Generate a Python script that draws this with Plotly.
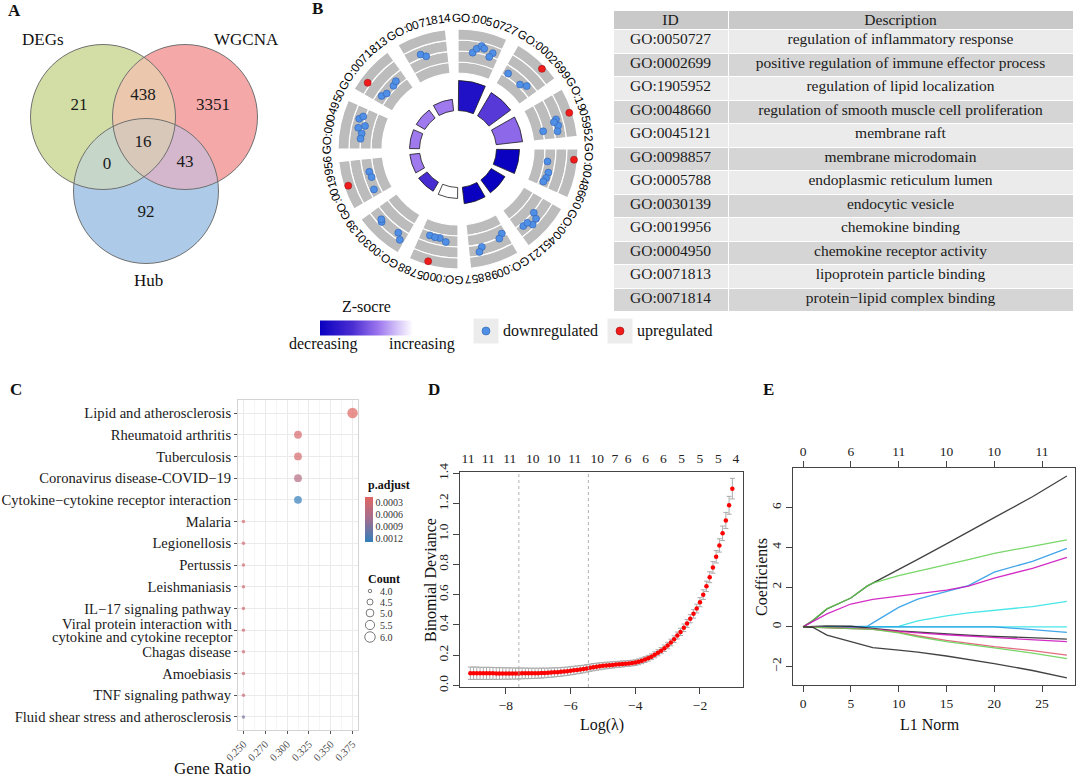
import math
import numpy as np
import plotly.graph_objects as go

W, H = 1080, 778
SERIF = "Liberation Serif"
SANS = "Liberation Sans"


def fx(x):
    return x / W


def fy(y):
    return 1 - y / H


# ---------------- data ----------------
# A: Venn
venn_sets = ["DEGs", "WGCNA", "Hub"]
venn_region_names = ["DEGs", "DEGs&WGCNA", "WGCNA", "DEGs&WGCNA&Hub", "DEGs&Hub", "WGCNA&Hub", "Hub"]
venn_region_counts = [21, 438, 3351, 16, 0, 43, 92]

# B: GO circle + table
go_ids = ["GO:0050727", "GO:0002699", "GO:1905952", "GO:0048660", "GO:0045121", "GO:0098857",
          "GO:0005788", "GO:0030139", "GO:0019956", "GO:0004950", "GO:0071813", "GO:0071814"]
go_desc = ["regulation of inflammatory response",
           "positive regulation of immune effector process",
           "regulation of lipid localization",
           "regulation of smooth muscle cell proliferation",
           "membrane raft",
           "membrane microdomain",
           "endoplasmic reticulum lumen",
           "endocytic vesicle",
           "chemokine binding",
           "chemokine receptor activity",
           "lipoprotein particle binding",
           "protein\u2212lipid complex binding"]
go_neglog_padj = [6.0, 5.4, 5.3, 4.6, 3.2, 3.3, 2.2, 2.1, 2.0, 2.0, 2.0, 2.3]
go_zscore = [-2.9, -2.0, -1.4, -3.3, -3.3, -3.3, 0.0, -2.2, -1.2, -1.2, -1.2, -1.2]

gene_term = [0, 0, 0, 0, 0, 0,
             1, 1, 1, 1,
             2, 2, 2, 2, 2, 2,
             3, 3, 3, 3, 3,
             4, 4, 4, 4, 4,
             5, 5, 5, 5,
             6, 6, 6, 6, 6,
             7, 7, 7, 7,
             8, 8, 8, 8,
             9, 9, 9, 9, 9, 9,
             10, 10, 10, 10, 10,
             11, 11]
gene_slot = [0.36, 0.44, 0.54, 0.61, 0.83, 0.78,
             0.15, 0.58, 0.73, 0.68,
             0.50, 0.55, 0.70, 0.60, 0.76, 0.83,
             0.22, 0.33, 0.61, 0.76, 0.87,
             0.42, 0.49, 0.64, 0.82, 0.70,
             0.11, 0.22, 0.68, 0.76,
             0.75, 0.48, 0.31, 0.61, 0.62,
             0.68, 0.73, 0.23, 0.11,
             0.48, 0.65, 0.50, 0.18,
             0.71, 0.79, 0.50, 0.38, 0.58, 0.25,
             0.26, 0.20, 0.33, 0.60, 0.73,
             0.35, 0.46]
gene_logfc = [-1.05, -0.64, -0.30, -0.48, -0.64, -1.07,
              -1.67, -1.78, -1.44, 0.64,
              0.73, -0.60, -0.55, -0.85, -2.00, -0.72,
              0.68, -1.70, -1.42, -1.48, -1.60,
              -0.90, -0.40, -0.25, -0.73, -0.70,
              -1.25, -0.94, -0.75, -0.35,
              -1.65, -1.65, -1.38, -1.62, 0.65,
              -0.31, -0.45, -0.56, -0.10,
              0.61, -1.58, -1.65, -1.43,
              -0.52, -0.80, -0.64, -1.04, -1.20, -1.00,
              0.27, -1.46, -1.70, -1.70, -1.55,
              -0.68, -1.00]

# C: KEGG dot plot
kegg_terms = ["Lipid and atherosclerosis", "Rheumatoid arthritis", "Tuberculosis",
              "Coronavirus disease-COVID\u221219", "Cytokine\u2212cytokine receptor interaction",
              "Malaria", "Legionellosis", "Pertussis", "Leishmaniasis", "IL\u221217 signaling pathway",
              "Viral protein interaction with cytokine and cytokine receptor",
              "Chagas disease", "Amoebiasis", "TNF signaling pathway",
              "Fluid shear stress and atherosclerosis"]
kegg_count = [6, 5, 5, 5, 5, 4, 4, 4, 4, 4, 4, 4, 4, 4, 4]
kegg_gene_ratio = [0.375, 0.3125, 0.3125, 0.3125, 0.3125, 0.25, 0.25, 0.25, 0.25, 0.25,
                   0.25, 0.25, 0.25, 0.25, 0.25]
kegg_padj = [0.00018, 0.00026, 0.00028, 0.00055, 0.0013, 0.0003, 0.0003, 0.0003, 0.00031,
             0.00033, 0.00035, 0.00036, 0.00036, 0.0004, 0.0009]
ratio_ticks = [0.25, 0.275, 0.30, 0.325, 0.35, 0.375]
ratio_tick_text = ["0.250", "0.270", "0.300", "0.325", "0.350", "0.375"]
padj_ticks = [0.0003, 0.0006, 0.0009, 0.0012]
count_legend = [4.0, 4.5, 5.0, 5.5, 6.0]

# D: cv.glmnet
d_loglambda = [-9.1, -9.0, -8.9, -8.8, -8.7, -8.6, -8.5, -8.4, -8.3, -8.2,
               -8.1, -8.0, -7.9, -7.8, -7.7, -7.6, -7.5, -7.4, -7.3, -7.2,
               -7.1, -7.0, -6.9, -6.8, -6.7, -6.6, -6.5, -6.4, -6.3, -6.2,
               -6.1, -6.0, -5.9, -5.8, -5.7, -5.6, -5.5, -5.4, -5.3, -5.2,
               -5.1, -5.0, -4.9, -4.8, -4.7, -4.6, -4.5, -4.4, -4.3, -4.2,
               -4.1, -4.0, -3.9, -3.8, -3.7, -3.6, -3.5, -3.4, -3.3, -3.2,
               -3.1, -3.0, -2.9, -2.8, -2.7, -2.6, -2.5, -2.4, -2.3, -2.2,
               -2.1, -2.0, -1.9, -1.8, -1.7, -1.6, -1.5, -1.4, -1.3, -1.2,
               -1.1, -1.0]
d_deviance = [0.081, 0.081, 0.081, 0.080, 0.080, 0.080, 0.080, 0.080, 0.079, 0.079,
              0.079, 0.079, 0.079, 0.079, 0.079, 0.079, 0.080, 0.080, 0.080, 0.080,
              0.081, 0.081, 0.082, 0.083, 0.084, 0.085, 0.087, 0.088, 0.090, 0.092,
              0.094, 0.097, 0.100, 0.103, 0.106, 0.109, 0.113, 0.117, 0.121, 0.124,
              0.127, 0.130, 0.132, 0.134, 0.136, 0.138, 0.140, 0.142, 0.144, 0.146,
              0.148, 0.151, 0.156, 0.163, 0.171, 0.180, 0.190, 0.203, 0.216, 0.230,
              0.246, 0.264, 0.284, 0.306, 0.330, 0.354, 0.381, 0.410, 0.441, 0.473,
              0.508, 0.550, 0.600, 0.655, 0.715, 0.780, 0.850, 0.925, 1.005, 1.090,
              1.190, 1.300]
d_sd = [0.041, 0.041, 0.041, 0.040, 0.040, 0.040, 0.040, 0.039, 0.039, 0.039,
        0.038, 0.038, 0.038, 0.037, 0.037, 0.036, 0.036, 0.035, 0.035, 0.034,
        0.034, 0.033, 0.033, 0.032, 0.031, 0.031, 0.030, 0.029, 0.029, 0.028,
        0.028, 0.027, 0.027, 0.026, 0.026, 0.025, 0.025, 0.024, 0.024, 0.023,
        0.023, 0.022, 0.022, 0.021, 0.021, 0.020, 0.020, 0.020, 0.019, 0.019,
        0.019, 0.019, 0.019, 0.019, 0.019, 0.019, 0.019, 0.020, 0.020, 0.020,
        0.021, 0.021, 0.022, 0.022, 0.023, 0.024, 0.025, 0.026, 0.027, 0.028,
        0.029, 0.030, 0.032, 0.034, 0.036, 0.038, 0.041, 0.044, 0.048, 0.053,
        0.059, 0.068]
d_lambda_min, d_lambda_1se = -7.6, -5.45
d_top_pos = [-9.17, -8.55, -7.88, -7.17, -6.52, -5.87, -5.18, -4.63, -4.22, -3.68,
             -3.13, -2.57, -2.0, -1.43, -0.89]
d_top_nzero = ["11", "11", "11", "10", "10", "11", "10", "7", "6", "6", "6", "5", "5", "5", "4"]

# E: coefficient paths
e_l1 = [0, 1, 2.5, 5, 6.7, 7.3, 10, 12, 15, 17.3, 20, 24, 27.6]
e_paths = {
    "black_up":   [0, 0.30, 0.90, 1.45, 2.05, 2.20, 2.88, 3.40, 4.18, 4.80, 5.50, 6.55, 7.60],
    "green_up":   [0, 0.32, 0.92, 1.45, 2.05, 2.20, 2.58, 2.80, 3.10, 3.38, 3.70, 4.05, 4.38],
    "blue_up":    [0, 0, 0, 0, 0.02, 0.20, 0.98, 1.40, 1.80, 2.08, 2.75, 3.30, 3.95],
    "magenta_up": [0, 0.25, 0.65, 1.15, 1.33, 1.38, 1.55, 1.68, 1.85, 2.05, 2.45, 2.95, 3.50],
    "cyan_up":    [0, 0, 0, 0, 0, 0, 0.02, 0.30, 0.55, 0.70, 0.82, 1.02, 1.28],
    "cyan_flat":  [0, 0, 0, 0, 0, 0, 0, 0, 0, 0, 0, 0, 0],
    "blue_small": [0, 0, 0, 0, 0, 0, 0, 0, 0, 0, 0, -0.14, -0.28],
    "black_small": [0, 0.02, 0.05, 0.03, -0.03, -0.08, -0.20, -0.27, -0.36, -0.42, -0.48, -0.56, -0.62],
    "magenta_small": [0, -0.02, -0.05, -0.07, -0.09, -0.11, -0.22, -0.30, -0.40, -0.47, -0.55, -0.66, -0.75],
    "red_neg":    [0, -0.02, -0.05, -0.08, -0.10, -0.13, -0.27, -0.45, -0.68, -0.84, -1.00, -1.20, -1.42],
    "green_neg":  [0, -0.02, -0.05, -0.08, -0.10, -0.13, -0.30, -0.50, -0.74, -0.90, -1.06, -1.32, -1.60],
    "black_neg":  [0, -0.02, -0.42, -0.75, -0.98, -1.05, -1.17, -1.27, -1.47, -1.63, -1.85, -2.20, -2.57],
}
e_top_pos = [0, 5, 10, 15, 20, 25]
e_top_nzero = ["0", "6", "11", "10", "10", "11"]

# ---------------- figure ----------------
fig = go.Figure()
annotations = []
shapes = []


def ann(x, y, text, size=16, bold=False, family=SERIF, xanchor="center", angle=0, color="#111111"):
    annotations.append(dict(x=fx(x), y=fy(y), xref="paper", yref="paper", text=f"<b>{text}</b>" if bold else text,
                            showarrow=False, xanchor=xanchor, yanchor="middle", textangle=angle,
                            font=dict(family=family, size=size, color=color)))


# panel letters
for letter, (lx, ly) in {"A": (14, 11), "B": (317, 9), "C": (16, 390), "D": (434, 390), "E": (768, 390)}.items():
    ann(lx, ly, letter, size=17, bold=True)

# ---- A: Venn ----
venn_centers = [(103, 117), (185, 117), (146, 191)]
venn_r = 72.5
xs = np.arange(26, 264) + 0.5
ys = np.arange(40, 268) + 0.5
XX, YY = np.meshgrid(xs, ys)
code = np.zeros_like(XX, dtype=int)
for bit, (cx, cy) in zip([1, 2, 4], venn_centers):
    code += bit * (((XX - cx) ** 2 + (YY - cy) ** 2) <= venn_r ** 2)
venn_cols = ["#ffffff", "#d2dea5", "#f5a8a8", "#ebc8ad", "#adcbe8", "#c6d6c8", "#d4b7cd", "#d7c8ba"]
venn_cs = []
for k, c in enumerate(venn_cols):
    venn_cs += [[k / 8, c], [(k + 1) / 8, c]]
fig.add_trace(go.Heatmap(x=xs, y=ys, z=code, zmin=-0.5, zmax=7.5, colorscale=venn_cs, showscale=False,
                         hoverinfo="skip", xaxis="x", yaxis="y"))
for (cx, cy) in venn_centers:
    shapes.append(dict(type="circle", xref="x", yref="y", x0=cx - venn_r, x1=cx + venn_r,
                       y0=cy - venn_r, y1=cy + venn_r, line=dict(color="#707070", width=1)))
region_xy = [(79, 106), (143, 96), (213, 106), (143, 143), (107, 165), (185, 163), (146, 213)]
fig.add_trace(go.Scatter(x=[p[0] for p in region_xy], y=[p[1] for p in region_xy],
                         text=[str(c) for c in venn_region_counts], mode="text",
                         textfont=dict(family=SERIF, size=17, color="#1a1a1a"),
                         hoverinfo="skip", xaxis="x", yaxis="y"))
for name, (lx, ly) in zip(venn_sets, [(43, 39), (246, 39), (148, 280)]):
    ann(lx, ly, name, size=17)

# ---- B: GO circle ----
CX, CY = 458, 149
R_MAX = 125
SECTOR = 30
SPAN = 24
R_IN_BAR = 38.5
BAR_SCALE = 5.0
BOX_IN, BOX_BAND = 76, 11


def lfc_to_r(v):
    return BOX_IN + (v + 3) * BOX_BAND


centers = [SECTOR * k + SPAN / 2 for k in range(len(go_ids))]
box_theta, box_base = [], []
for c in centers:
    for b in range(4):
        box_theta.append(c)
        box_base.append(BOX_IN + b * BOX_BAND)
fig.add_trace(go.Barpolar(theta=box_theta, r=[BOX_BAND] * len(box_theta), base=box_base, width=SPAN,
                          marker=dict(color="#bcbcbc", line=dict(color="white", width=1.2)),
                          hoverinfo="skip", subplot="polar"))
ZS = [[0, "#0a00c0"], [0.35, "#4a2ed2"], [0.62, "#9a74ee"], [0.82, "#d2bff8"], [1, "#ffffff"]]
fig.add_trace(go.Barpolar(theta=centers, r=[v * BAR_SCALE for v in go_neglog_padj], base=R_IN_BAR,
                          width=SPAN - 1,
                          marker=dict(color=go_zscore, colorscale=ZS, cmin=-3.3, cmax=0,
                                      line=dict(color="#1a1a1a", width=0.8), showscale=True,
                                      colorbar=dict(orientation="h", x=fx(366.5), xanchor="center",
                                                    y=fy(327.5), yanchor="middle", len=93, lenmode="pixels",
                                                    thickness=15, showticklabels=False, ticks="",
                                                    outlinewidth=0, xpad=0, ypad=0)),
                          hoverinfo="skip", subplot="polar"))
for up in (False, True):
    idx = [i for i, v in enumerate(gene_logfc) if (v > 0) == up]
    fig.add_trace(go.Scatterpolar(
        theta=[SECTOR * gene_term[i] + gene_slot[i] * SPAN for i in idx],
        r=[lfc_to_r(gene_logfc[i]) for i in idx], mode="markers",
        marker=dict(size=7, color="#f01c1c" if up else "#4f8fe6",
                    line=dict(color="#a01010" if up else "#2f5fb0", width=0.6)),
        hoverinfo="skip", subplot="polar"))

ARIAL_W = {"G": 0.778, "O": 0.778, ":": 0.278}
LABEL_R, LABEL_FS = 131, 11.8
for k, gid in enumerate(go_ids):
    widths = [ARIAL_W.get(ch, 0.556) * LABEL_FS for ch in gid]
    total = sum(widths)
    start = (SECTOR * k + 12.2) - math.degrees(total / LABEL_R) / 2
    cum = 0.0
    for ch, w in zip(gid, widths):
        ang = start + math.degrees((cum + w / 2) / LABEL_R)
        cum += w
        a = math.radians(ang)
        x = CX + LABEL_R * math.sin(a)
        y = CY - LABEL_R * math.cos(a)
        rot = ((ang + 180) % 360) - 180
        annotations.append(dict(x=fx(x), y=fy(y), xref="paper", yref="paper", text=ch, showarrow=False,
                                xanchor="center", yanchor="middle", textangle=rot,
                                font=dict(family=SANS, size=LABEL_FS, color="#000000")))

# B legends
ann(366, 307, "Z-socre", size=16)
ann(323, 344, "decreasing", size=16)
ann(422, 344, "increasing", size=16)
for (bx, col, edge, label) in [(486, "#4f8fe6", "#2f5fb0", "downregulated"), (620, "#f01c1c", "#a01010", "upregulated")]:
    shapes.append(dict(type="rect", xref="paper", yref="paper", x0=fx(bx - 12.5), x1=fx(bx + 12.5),
                       y0=fy(343.5), y1=fy(318.5), fillcolor="#ececec", line=dict(width=0)))
    shapes.append(dict(type="circle", xref="paper", yref="paper", x0=fx(bx - 4), x1=fx(bx + 4),
                       y0=fy(335), y1=fy(327), fillcolor=col, line=dict(color=edge, width=0.6)))
    ann(bx + 15, 331, label, size=16, xanchor="left")

# table: one layer for the cell fills, one (raised a few px) for the centred text
row_cols = ["#ebebeb" if i % 2 == 0 else "#d5d5d5" for i in range(len(go_ids))]
T_TOP, T_BOT, T_LIFT = 10, 316, 5
blank = [[""] * len(go_ids), [""] * len(go_ids)]
fig.add_trace(go.Table(
    domain=dict(x=[fx(613), fx(1073)], y=[fy(T_BOT), fy(T_TOP)]),
    columnwidth=[115, 345],
    header=dict(values=["", ""], fill_color="#c9c9c9", line=dict(color="white", width=1),
                font=dict(family=SERIF, size=15.5, color="#1a1a1a"), height=19.5),
    cells=dict(values=blank, fill_color=[row_cols, row_cols], line=dict(color="white", width=1),
               font=dict(family=SERIF, size=15.5, color="#1a1a1a"), height=23.5)))
fig.add_trace(go.Table(
    domain=dict(x=[fx(613), fx(1073)], y=[fy(T_BOT - T_LIFT), fy(T_TOP - T_LIFT)]),
    columnwidth=[115, 345],
    header=dict(values=["ID", "Description"], fill_color="rgba(0,0,0,0)", line=dict(width=0),
                font=dict(family=SERIF, size=15.5, color="#1a1a1a"), height=19.5, align="center"),
    cells=dict(values=[go_ids, go_desc], fill_color="rgba(0,0,0,0)", line=dict(width=0),
               font=dict(family=SERIF, size=15.5, color="#1a1a1a"), height=23.5, align="center")))

# ---- C: KEGG dot plot ----
def dot_size(c):
    return math.sqrt(12 + 49 * (c - 4))


C_TOP, C_BOT = 400, 730
C_FS = 14.6
PCS = [[0, "#327eba"], [0.5, "#a06f90"], [1, "#e06663"]]
fig.add_trace(go.Scatter(
    x=kegg_gene_ratio, y=kegg_terms, mode="markers", xaxis="x2", yaxis="y2",
    marker=dict(size=[dot_size(c) for c in kegg_count], color=[-p for p in kegg_padj],
                colorscale=PCS, cmin=-0.0013, cmax=-0.000175, line=dict(width=0), showscale=True,
                colorbar=dict(x=fx(365), xanchor="left", y=fy(519.5), yanchor="middle", len=45,
                              lenmode="pixels", thickness=8, outlinewidth=0, xpad=0, ypad=0, ticks="",
                              tickvals=[-t for t in padj_ticks], ticktext=[f"{t:.4f}" for t in padj_ticks],
                              tickfont=dict(family=SERIF, size=10, color="#333333"))),
    hoverinfo="skip"))
# two-line label for the long term (tight line spacing like the reference)
long_idx = kegg_terms.index("Viral protein interaction with cytokine and cytokine receptor")
c_ticktext = ["" if i == long_idx else t for i, t in enumerate(kegg_terms)]
unit = (C_BOT - C_TOP) / 15.2
yc = C_TOP + (0.6 + long_idx) * unit
ann(233.5, yc - 6.6, "Viral protein interaction with", size=C_FS, xanchor="right", color="#1a1a1a")
ann(233.5, yc + 6.6, "cytokine and cytokine receptor", size=C_FS, xanchor="right", color="#1a1a1a")

ann(366, 485, "p.adjust", size=12, bold=True, xanchor="left")
ann(366, 579, "Count", size=12, bold=True, xanchor="left")
for c, ly in zip(count_legend, [591, 602, 613, 625, 637]):
    d = dot_size(c)
    shapes.append(dict(type="circle", xref="paper", yref="paper", x0=fx(370 - d / 2), x1=fx(370 + d / 2),
                       y0=fy(ly + d / 2), y1=fy(ly - d / 2), line=dict(color="#7a7a7a", width=1)))
    ann(378, ly, f"{c:.1f}", size=10, xanchor="left", color="#333333")
ann(212, 768, "Gene Ratio", size=17)

# ---- D: cv deviance ----
fig.add_trace(go.Scatter(x=d_loglambda, y=d_deviance, mode="markers", xaxis="x3", yaxis="y3",
                         marker=dict(color="#ff0000", size=4.5),
                         error_y=dict(type="data", array=d_sd, color="#aaaaaa", thickness=1, width=2.5),
                         hoverinfo="skip"))
fig.add_trace(go.Scatter(x=[d_top_pos[0]], y=[0], mode="markers", xaxis="x4", yaxis="y3",
                         marker=dict(opacity=0), hoverinfo="skip"))
for xv in (d_lambda_min, d_lambda_1se):
    shapes.append(dict(type="line", xref="x3", yref="y3 domain", x0=xv, x1=xv, y0=0, y1=1,
                       line=dict(color="#a0a0a0", width=0.8, dash="dot")))
ann(430, 580, "Binomial Deviance", size=16, angle=-90)
ann(602, 725, "Log(\u03bb)", size=16)

# ---- E: coefficient paths ----
e_colors = {"black": "#222222", "red": "#DF536B", "green": "#61D04F", "blue": "#2297E6",
            "cyan": "#28E2E5", "magenta": "#CD0BBC"}
for name, vals in e_paths.items():
    col = e_colors[name.split("_")[0]]
    fig.add_trace(go.Scatter(x=e_l1, y=vals, mode="lines", xaxis="x5", yaxis="y5",
                             line=dict(color=col, width=1.3), opacity=0.85, hoverinfo="skip"))
fig.add_trace(go.Scatter(x=[0], y=[0], mode="markers", xaxis="x6", yaxis="y5",
                         marker=dict(opacity=0), hoverinfo="skip"))
ann(761, 577, "Coefficients", size=16, angle=-90)
ann(930, 724, "L1 Norm", size=16)

tickf = dict(family=SERIF, size=13.5, color="#222222")
box_axis = dict(showline=True, mirror=True, linecolor="#444444", linewidth=1, showgrid=False, zeroline=False,
                ticks="outside", ticklen=6, tickcolor="#444444", tickfont=tickf, automargin=False)

fig.update_layout(
    template="none",
    width=W, height=H, margin=dict(l=0, r=0, t=0, b=0, autoexpand=False),
    paper_bgcolor="white", plot_bgcolor="white",
    showlegend=False,
    xaxis=dict(domain=[0, fx(300)], range=[0, 300], visible=False, fixedrange=True, automargin=False),
    yaxis=dict(domain=[fy(300), 1], range=[300, 0], visible=False, fixedrange=True, automargin=False),
    polar=dict(domain=dict(x=[fx(CX - R_MAX), fx(CX + R_MAX)], y=[fy(CY + R_MAX), fy(CY - R_MAX)]),
               radialaxis=dict(visible=False, range=[0, R_MAX]),
               angularaxis=dict(visible=False, rotation=90, direction="clockwise"),
               bgcolor="rgba(0,0,0,0)", barmode="overlay"),
    xaxis2=dict(domain=[fx(238), fx(358)], range=[0.24375, 0.38125], anchor="y2", automargin=False,
                tickvals=ratio_ticks, ticktext=ratio_tick_text, tickangle=-45,
                tickfont=dict(family=SERIF, size=10.5, color="#4d4d4d"),
                showgrid=True, gridcolor="#ebebeb", gridwidth=1,
                minor=dict(showgrid=True, gridcolor="#f5f5f5", gridwidth=0.6, dtick=0.0125, tick0=0.25),
                ticks="outside", ticklen=3, tickcolor="#555555",
                showline=True, mirror=True, linecolor="#d4d4d4", zeroline=False),
    yaxis2=dict(domain=[fy(C_BOT), fy(C_TOP)], anchor="x2", type="category", automargin=False,
                categoryorder="array", categoryarray=kegg_terms, range=[14.6, -0.6],
                tickmode="array", tickvals=kegg_terms, ticktext=c_ticktext,
                tickfont=dict(family=SERIF, size=C_FS, color="#1a1a1a"),
                showgrid=True, gridcolor="#ebebeb", ticks="outside", ticklen=3, tickcolor="#555555",
                showline=True, mirror=True, linecolor="#d4d4d4", zeroline=False),
    xaxis3=dict(domain=[fx(460), fx(743)], range=[-9.42, -0.67], anchor="y3",
                tickvals=[-8, -6, -4, -2], **box_axis),
    yaxis3=dict(domain=[fy(687), fy(472)], range=[-0.01, 1.41], anchor="x3",
                tickvals=[0, 0.2, 0.4, 0.6, 0.8, 1.0, 1.2, 1.4],
                ticktext=["0.0", "0.2", "0.4", "0.6", "0.8", "1.0", "1.2", "1.4"], tickangle=-90, **box_axis),
    xaxis4=dict(overlaying="x3", anchor="y3", side="top", range=[-9.42, -0.67], tickvals=d_top_pos,
                ticktext=d_top_nzero, ticks="", showline=False, showgrid=False, zeroline=False, tickfont=tickf,
                ticklabelstandoff=5, automargin=False),
    xaxis5=dict(domain=[fx(793), fx(1075)], range=[-1.05, 28.45], anchor="y5",
                tickvals=[0, 5, 10, 15, 20, 25], **box_axis),
    yaxis5=dict(domain=[fy(685), fy(468)], range=[-2.93, 8.0], anchor="x5",
                tickvals=[-2, 0, 2, 4, 6], tickangle=-90, **box_axis),
    xaxis6=dict(overlaying="x5", anchor="y5", side="top", range=[-1.05, 28.45], tickvals=e_top_pos,
                ticktext=e_top_nzero, ticks="outside", ticklen=6, tickcolor="#444444",
                showline=False, showgrid=False, zeroline=False, tickfont=tickf, automargin=False),
    annotations=annotations,
    shapes=shapes,
)

fig.write_html("out.html", config={"displayModeBar": False},
               post_script="document.body.style.margin='0';document.body.style.padding='0';")
